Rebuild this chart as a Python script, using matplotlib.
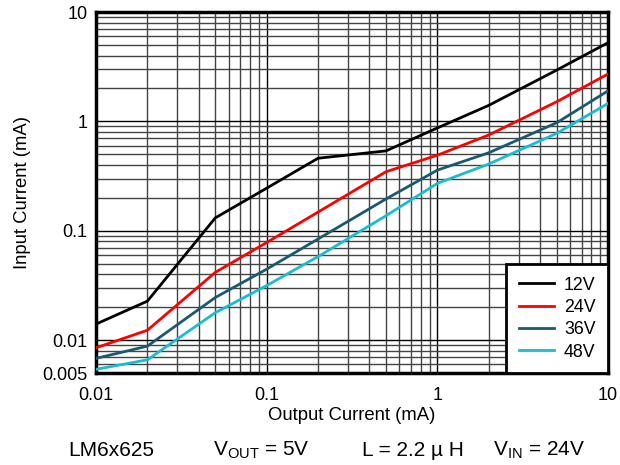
import matplotlib
matplotlib.use("Agg")
import matplotlib.pyplot as plt
from matplotlib.ticker import FixedLocator, NullFormatter, LogLocator

plt.rcParams['font.family'] = ['Liberation Sans', 'DejaVu Sans']
plt.rcParams['mathtext.fontset'] = 'custom'
plt.rcParams['mathtext.rm'] = 'Liberation Sans'

# output current (mA)
iout = [0.01, 0.02, 0.05, 0.1, 0.2, 0.5, 1, 2, 5, 10]

# input current (mA) for each VIN
iin_12v = [0.014, 0.0227, 0.131, 0.245, 0.46, 0.537, 0.87, 1.40, 2.94, 5.24]
iin_24v = [0.0085, 0.0123, 0.0416, 0.078, 0.148, 0.346, 0.49, 0.75, 1.51, 2.71]
iin_36v = [0.0068, 0.0088, 0.0245, 0.0445, 0.084, 0.195, 0.358, 0.516, 0.97, 1.9]
iin_48v = [0.0054, 0.0066, 0.0178, 0.0315, 0.058, 0.137, 0.271, 0.407, 0.776, 1.46]

labels = ['12V', '24V', '36V', '48V']
colors = ['#000000', '#ff0000', '#1a5a6e', '#17becf']

yticks = [0.005, 0.01, 0.1, 1, 10]
ytick_labels = ['0.005', '0.01', '0.1', '1', '10']
xticks = [0.01, 0.1, 1, 10]
xtick_labels = ['0.01', '0.1', '1', '10']

fig = plt.figure(figsize=(6.2, 4.65), dpi=100)
ax = fig.add_axes([96 / 620, 1 - 373 / 465, 512 / 620, 361 / 465])

for ys, lab, c in zip([iin_12v, iin_24v, iin_36v, iin_48v], labels, colors):
    ax.plot(iout, ys, color=c, lw=2, label=lab, zorder=3)

ax.set_xscale('log')
ax.set_yscale('log')
ax.set_xlim(0.01, 10)
ax.set_ylim(0.005, 10)

ax.xaxis.set_major_locator(FixedLocator(xticks))
ax.set_xticklabels(xtick_labels)
ax.yaxis.set_major_locator(FixedLocator(yticks))
ax.set_yticklabels(ytick_labels)
ax.xaxis.set_minor_locator(LogLocator(base=10, subs=range(2, 10), numticks=20))
ax.yaxis.set_minor_locator(LogLocator(base=10, subs=range(2, 10), numticks=20))
ax.xaxis.set_minor_formatter(NullFormatter())
ax.yaxis.set_minor_formatter(NullFormatter())
ax.tick_params(which='both', length=0, labelsize=13)
ax.tick_params(axis='x', pad=10)
ax.tick_params(axis='y', pad=6)

ax.grid(which='major', color='black', lw=1.0)
ax.grid(which='minor', color='#444444', lw=1.0)
for s in ax.spines.values():
    s.set_linewidth(2.5)

ax.set_xlabel('Output Current (mA)', fontsize=13.3, labelpad=2)
ax.set_ylabel('Input Current (mA)', fontsize=13.3, labelpad=8)

leg = ax.legend(loc='lower right', fontsize=12.8, fancybox=False, framealpha=1,
                edgecolor='black', borderaxespad=0, handlelength=2.0,
                handletextpad=0.55, labelspacing=0.3, borderpad=0.7)
leg.get_frame().set_linewidth(2)

cap_y = 1 - 450 / 465
fig.text(68 / 620, cap_y, 'LM6x625', fontsize=15, va='center')
fig.text(213 / 620, cap_y, r'V$_{\mathrm{OUT}}$ = 5V', fontsize=15, va='center')
fig.text(362 / 620, cap_y, 'L = 2.2 \u00b5 H', fontsize=15, va='center')
fig.text(493 / 620, cap_y, r'V$_{\mathrm{IN}}$ = 24V', fontsize=15, va='center')

fig.savefig('out.png', dpi=100)
